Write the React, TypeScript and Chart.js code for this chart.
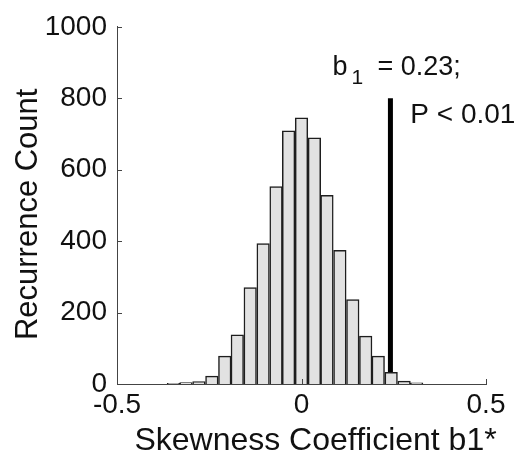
import React, { useEffect, useRef } from "react";
import { Chart, registerables } from "chart.js";

Chart.register(...registerables);

// Histogram bins (centres on the skewness axis) and recurrence counts
const binCenters = [
  -0.347, -0.313, -0.278, -0.243, -0.208, -0.174, -0.139, -0.104, -0.069, -0.035,
  0.0, 0.035, 0.069, 0.104, 0.139, 0.174, 0.208, 0.243, 0.278, 0.312,
];
const counts = [
  2, 4, 7, 22, 78, 138, 270, 393, 553, 709,
  745, 689, 528, 374, 236, 134, 78, 33, 8, 3,
];

// Observed statistic marker
const markerX = 0.241;
const markerYRange = [0, 800];

const xTicks = [-0.5, 0, 0.5];
const yTicks = [0, 200, 400, 600, 800, 1000];

const xTitle = "Skewness Coefficient b1*";
const yTitle = "Recurrence Count";
const annotationB1 = { main: "b", sub: "1", rest: "= 0.23;" };
const annotationP = "P < 0.01";

const FONT = "'Liberation Sans', Arial, sans-serif";

export default function App() {
  const ref = useRef<HTMLCanvasElement | null>(null);

  useEffect(() => {
    if (!ref.current) return;

    const decorations = {
      id: "decorations",
      afterDraw(chart: any) {
        const { ctx, chartArea, scales } = chart;
        const xs = scales.x;
        const ys = scales.y;
        ctx.save();
        ctx.strokeStyle = "#444";
        ctx.lineWidth = 1;
        ctx.beginPath();
        yTicks.forEach((v) => {
          const y = Math.round(ys.getPixelForValue(v)) + 0.5;
          ctx.moveTo(chartArea.left, y);
          ctx.lineTo(chartArea.left + 5, y);
        });
        xTicks.forEach((v) => {
          const x = Math.round(xs.getPixelForValue(v)) + 0.5;
          ctx.moveTo(x, chartArea.bottom);
          ctx.lineTo(x, chartArea.bottom - 5);
        });
        ctx.stroke();

        ctx.fillStyle = "#111";

        // axis titles
        ctx.font = `32px ${FONT}`;
        ctx.textAlign = "center";
        ctx.textBaseline = "middle";
        ctx.fillText(xTitle, xs.getPixelForValue(0.038), chartArea.bottom + 57);
        ctx.save();
        ctx.translate(28, ys.getPixelForValue(475));
        ctx.rotate(-Math.PI / 2);
        ctx.font = `31px ${FONT}`;
        ctx.fillText(yTitle, 0, 0);
        ctx.restore();

        // annotations
        ctx.textBaseline = "alphabetic";
        ctx.textAlign = "left";
        const bx = xs.getPixelForValue(0.084);
        const by = ys.getPixelForValue(866);
        ctx.font = `27px ${FONT}`;
        ctx.fillText(annotationB1.main, bx, by);
        const bw = ctx.measureText(annotationB1.main).width;
        ctx.font = `21px ${FONT}`;
        ctx.fillText(annotationB1.sub, bx + bw + 4, by + 9);
        ctx.font = `27px ${FONT}`;
        ctx.fillText(annotationB1.rest, bx + bw + 30, by);

        const px = xs.getPixelForValue(0.295);
        ctx.font = `28px ${FONT}`;
        const py = ys.getPixelForValue(730);
        ctx.fillText(annotationP, px, py);
        ctx.restore();
      },
    };

    const chart = new Chart(ref.current, {
      type: "bar",
      data: {
        datasets: [
          {
            type: "bar",
            data: binCenters.map((x, i) => ({ x, y: counts[i] })),
            backgroundColor: "#e2e2e2",
            borderColor: "#1e1e1e",
            borderWidth: 1.5,
            barPercentage: 1,
            categoryPercentage: 1,
            grouped: false,
          } as any,
          {
            type: "line",
            data: markerYRange.map((y) => ({ x: markerX, y })),
            borderColor: "#000",
            borderWidth: 5,
            pointRadius: 0,
            fill: false,
          } as any,
        ],
      },
      plugins: [decorations],
      options: {
        animation: false,
        responsive: false,
        events: [],
        layout: { padding: { top: 23, right: 41, left: 0, bottom: 0 } },
        plugins: {
          legend: { display: false },
          tooltip: { enabled: false },
        },
        scales: {
          x: {
            type: "linear",
            min: -0.5,
            max: 0.5,
            offset: false,
            afterBuildTicks: (s: any) => {
              s.ticks = xTicks.map((v) => ({ value: v }));
            },
            afterFit: (s: any) => {
              s.height = 82;
            },
            grid: { display: false, drawTicks: false, offset: false },
            border: { display: true, color: "#444", width: 1 },
            ticks: {
              color: "#111",
              font: { family: FONT, size: 28 },
              padding: 4,
              maxRotation: 0,
              callback: (v: any) => String(v),
            },
            title: { display: false },
          },
          y: {
            type: "linear",
            min: 0,
            max: 1000,
            afterBuildTicks: (s: any) => {
              s.ticks = yTicks.map((v) => ({ value: v }));
            },
            afterFit: (s: any) => {
              s.width = 117;
            },
            grid: { display: false, drawTicks: false },
            border: { display: true, color: "#444", width: 1 },
            ticks: {
              color: "#111",
              font: { family: FONT, size: 28 },
              padding: 10,
              callback: (v: any) => String(v),
            },
            title: { display: false },
          },
        },
      } as any,
    });

    return () => chart.destroy();
  }, []);

  return (
    <div style={{ position: "fixed", left: 0, top: 0, width: 527, height: 466, background: "#fff" }}>
      <canvas ref={ref} width={527} height={466} style={{ display: "block" }} />
    </div>
  );
}
